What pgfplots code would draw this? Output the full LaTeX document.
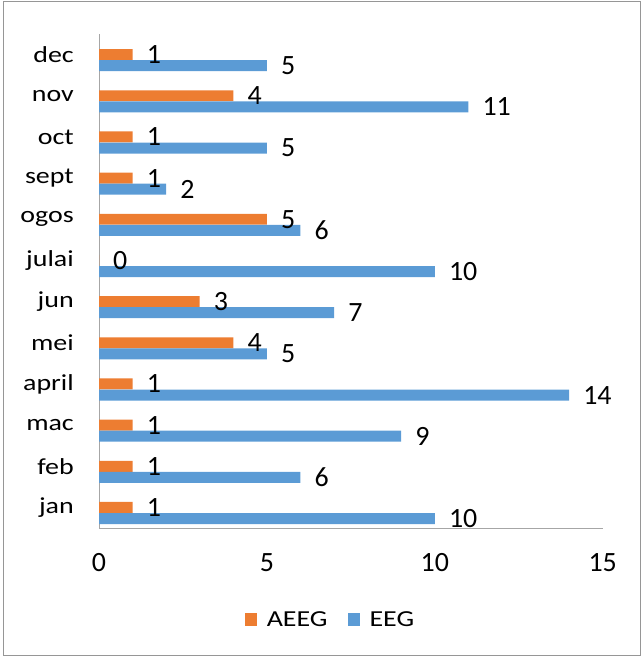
\documentclass[border=0pt]{standalone}
\usepackage{fontspec}
\setmainfont{Carlito}
\newfontfamily\widefont[FakeStretch=1.22]{Carlito}
\usepackage{pgfplots}
\pgfplotsset{compat=1.18}
\definecolor{aeeg}{RGB}{237,125,49}
\definecolor{eeg}{RGB}{91,155,213}
\definecolor{axgray}{RGB}{166,166,166}
\definecolor{framegray}{RGB}{150,150,150}

\begin{document}
\begin{tikzpicture}
\begin{axis}[
scale only axis,width=503.7bp,height=494bp,
xbar,bar width=0.267,
xmin=0,xmax=15,ymin=-0.5,ymax=11.5,
xtick={0,5,10,15},
ytick={0,...,11},
yticklabels={jan,feb,mac,april,mei,jun,julai,ogos,sept,oct,nov,dec},
axis lines*=left,axis line style={axgray,line width=1bp},
major tick length=0pt,
clip=false,
/pgf/number format/assume math mode=true,
xticklabel style={font=\fontsize{28}{30}\selectfont,anchor=center,inner sep=0pt,yshift=-35bp},
yticklabel style={font=\widefont\fontsize{23}{25}\selectfont,inner sep=0pt,xshift=-25bp},
nodes near coords,
nodes near coords style={font=\fontsize{28}{30}\selectfont,anchor=west,inner sep=0pt,xshift=14bp,
  /pgf/number format/assume math mode=true},
legend style={draw=none,at={(rel axis cs:0.4596,-0.186)},anchor=center,legend columns=2,
  font=\widefont\fontsize{23}{25}\selectfont,
  /tikz/every odd column/.append style={column sep=8bp},
  /tikz/every even column/.append style={column sep=18bp}},
legend image code/.code={\fill[#1] (0bp,-6.5bp) rectangle (12bp,6.5bp);},
]
\addplot[fill=aeeg,draw=none,bar shift=0] coordinates {(1,0)(1,1)(1,2)(1,3)(4,4)(3,5)(0,6)(5,7)(1,8)(1,9)(4,10)(1,11)};
\addlegendentry{AEEG}
\addplot[fill=eeg,draw=none,bar shift=-0.27] coordinates {(10,0)(6,1)(9,2)(14,3)(5,4)(7,5)(10,6)(6,7)(2,8)(5,9)(11,10)(5,11)};
\addlegendentry{EEG}
\coordinate (bl) at (rel axis cs:-0.19655,-0.26113);
\coordinate (tr) at (rel axis cs:1.07802,1.06883);
\draw[framegray,line width=1bp] (rel axis cs:-0.18960,-0.25810) rectangle (rel axis cs:1.07504,1.06579);
\end{axis}
\pgfresetboundingbox
\path[use as bounding box] (bl) rectangle (tr);
\end{tikzpicture}
\end{document}
